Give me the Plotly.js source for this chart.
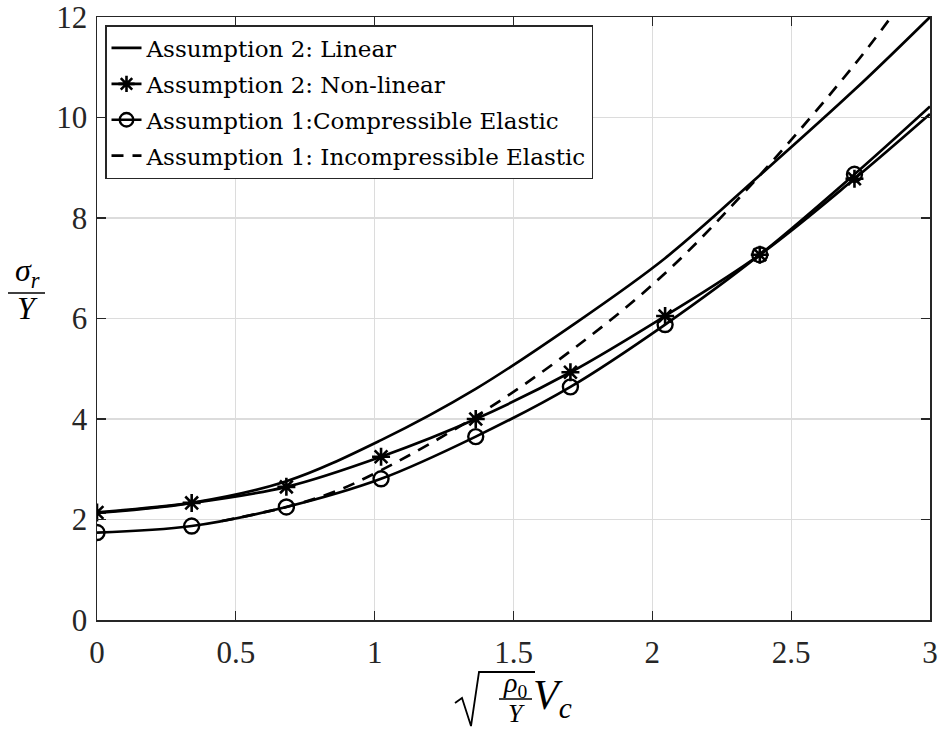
<!DOCTYPE html>
<html>
<head>
<meta charset="utf-8">
<script src="https://cdn.plot.ly/plotly-3.0.1.min.js"></script>
<style>html,body{margin:0;padding:0;background:#fff;}#chart{width:941px;height:731px;}</style>
</head>
<body>
<div id="chart"></div>
<script>
// ---- data ----
const seriesNames = [
  "Assumption 2: Linear",
  "Assumption 2: Non-linear",
  "Assumption 1:Compressible Elastic",
  "Assumption 1: Incompressible Elastic"
];
const xPts = [0, 0.341, 0.682, 1.023, 1.364, 1.705, 2.046, 2.387, 2.728, 3.0];
const linearY = [2.13, 2.33, 2.76, 3.58, 4.6, 5.84, 7.2, 8.85, 10.55, 12.0];
const nonlinY = [2.14, 2.33, 2.65, 3.25, 4.0, 4.93, 6.05, 7.27, 8.78, 10.07];
const compY   = [1.74, 1.87, 2.25, 2.81, 3.65, 4.64, 5.88, 7.27, 8.87, 10.22];
const incompX = [0.45, 0.682, 0.85, 1.023, 1.364, 1.705, 2.046, 2.387, 2.728, 2.86];
const incompY = [1.97, 2.25, 2.54, 2.98, 4.05, 5.35, 6.9, 8.85, 11.05, 12.0];
const xTicks = [0, 0.5, 1, 1.5, 2, 2.5, 3];
const xTickText = ["0", "0.5", "1", "1.5", "2", "2.5", "3"];
const yTicks = [0, 2, 4, 6, 8, 10, 12];
const yTickText = ["0", "2", "4", "6", "8", "10", "12"];

// ---- layout helpers (pixel -> paper) ----
const L = 97, R = 930, T = 17, B = 620;
const px = v => (v - L) / (R - L);
const py = v => (B - v) / (B - T);
const FONT = "Liberation Serif, serif";
const LEGFONT = "DejaVu Serif, serif";
const INK = "#000";

// markers on all but the final (end) point
const markSizes = n => xPts.map((_, i) => i === xPts.length - 1 ? 0 : n);

const traces = [
  {x: xPts, y: linearY, name: seriesNames[0], mode: "lines", legendgroup: "a",
   line: {color: INK, width: 2.7, shape: "spline", smoothing: 1}},
  {x: xPts, y: nonlinY, name: seriesNames[1], mode: "lines+markers", legendgroup: "b",
   line: {color: INK, width: 2.7, shape: "spline", smoothing: 1},
   marker: {symbol: "asterisk-open", size: markSizes(15), color: INK, opacity: 1, line: {color: INK, width: 2.6}}},
  {x: xPts, y: compY, name: seriesNames[2], mode: "lines+markers", legendgroup: "c",
   line: {color: INK, width: 2.7, shape: "spline", smoothing: 1},
   marker: {symbol: "circle-open", size: markSizes(15), color: INK, opacity: 1, line: {color: INK, width: 2.4}}},
  {x: incompX, y: incompY, name: seriesNames[3], mode: "lines", legendgroup: "d",
   line: {color: INK, width: 2.7, dash: "12px,9px", shape: "spline", smoothing: 1}}
];

const axisCommon = {
  showline: true, linecolor: "#262626", linewidth: 1.5, mirror: "ticks",
  ticks: "inside", ticklen: 9, tickwidth: 1.3, tickcolor: "#262626",
  showgrid: true, gridcolor: "#dcdcdc", gridwidth: 1.2, zeroline: false,
  ticklabeloverflow: "allow",
  tickfont: {family: FONT, size: 31, color: "#262626"}
};

const sqrtPath = `M ${px(455)} ${py(703)} L ${px(462)} ${py(698)} L ${px(471)} ${py(726)} L ${px(479)} ${py(672)} L ${px(535)} ${py(672)}`;

const layout = {
  width: 941, height: 731,
  margin: {l: L, r: 941 - R, t: T, b: 731 - B, pad: 0},
  paper_bgcolor: "#fff", plot_bgcolor: "#fff",
  showlegend: true,
  legend: {
    x: px(105), y: py(25), xanchor: "left", yanchor: "top",
    bgcolor: "#fff", bordercolor: "#262626", borderwidth: 1.5,
    font: {family: LEGFONT, size: 23, color: "#000"},
    itemwidth: 30, tracegroupgap: 3
  },
  xaxis: Object.assign({}, axisCommon, {
    range: [0, 3], tickvals: xTicks, ticktext: xTickText, ticklabelstandoff: 4
  }),
  yaxis: Object.assign({}, axisCommon, {
    range: [0, 12], tickvals: yTicks, ticktext: yTickText, ticklabelstandoff: 2
  }),
  shapes: [
    // y-label fraction bar
    {type: "line", xref: "paper", yref: "paper", x0: px(8), x1: px(45), y0: py(293), y1: py(293),
     line: {color: INK, width: 1.6}},
    // x-label sqrt sign
    {type: "path", xref: "paper", yref: "paper", path: sqrtPath, line: {color: INK, width: 1.8}},
    // x-label inner fraction bar
    {type: "line", xref: "paper", yref: "paper", x0: px(499), x1: px(532), y0: py(699), y1: py(699),
     line: {color: INK, width: 1.4}}
  ],
  annotations: [
    {xref: "paper", yref: "paper", x: px(27), y: py(272), text: "<i>σ<sub>r</sub></i>", showarrow: false,
     font: {family: FONT, size: 32, color: INK}, xanchor: "center", yanchor: "middle"},
    {xref: "paper", yref: "paper", x: px(27), y: py(308), text: "<i>Y</i>", showarrow: false,
     font: {family: FONT, size: 32, color: INK}, xanchor: "center", yanchor: "middle"},
    {xref: "paper", yref: "paper", x: px(515), y: py(684), text: "<i>ρ</i><sub>0</sub>", showarrow: false,
     font: {family: FONT, size: 28, color: INK}, xanchor: "center", yanchor: "middle"},
    {xref: "paper", yref: "paper", x: px(516), y: py(713), text: "<i>Y</i>", showarrow: false,
     font: {family: FONT, size: 26, color: INK}, xanchor: "center", yanchor: "middle"},
    {xref: "paper", yref: "paper", x: px(531), y: py(698), text: "<i>V<sub>c</sub></i>", showarrow: false,
     font: {family: FONT, size: 42, color: INK}, xanchor: "left", yanchor: "middle"}
  ]
};

Plotly.newPlot("chart", traces, layout, {displayModeBar: false, staticPlot: true});
</script>
</body>
</html>
